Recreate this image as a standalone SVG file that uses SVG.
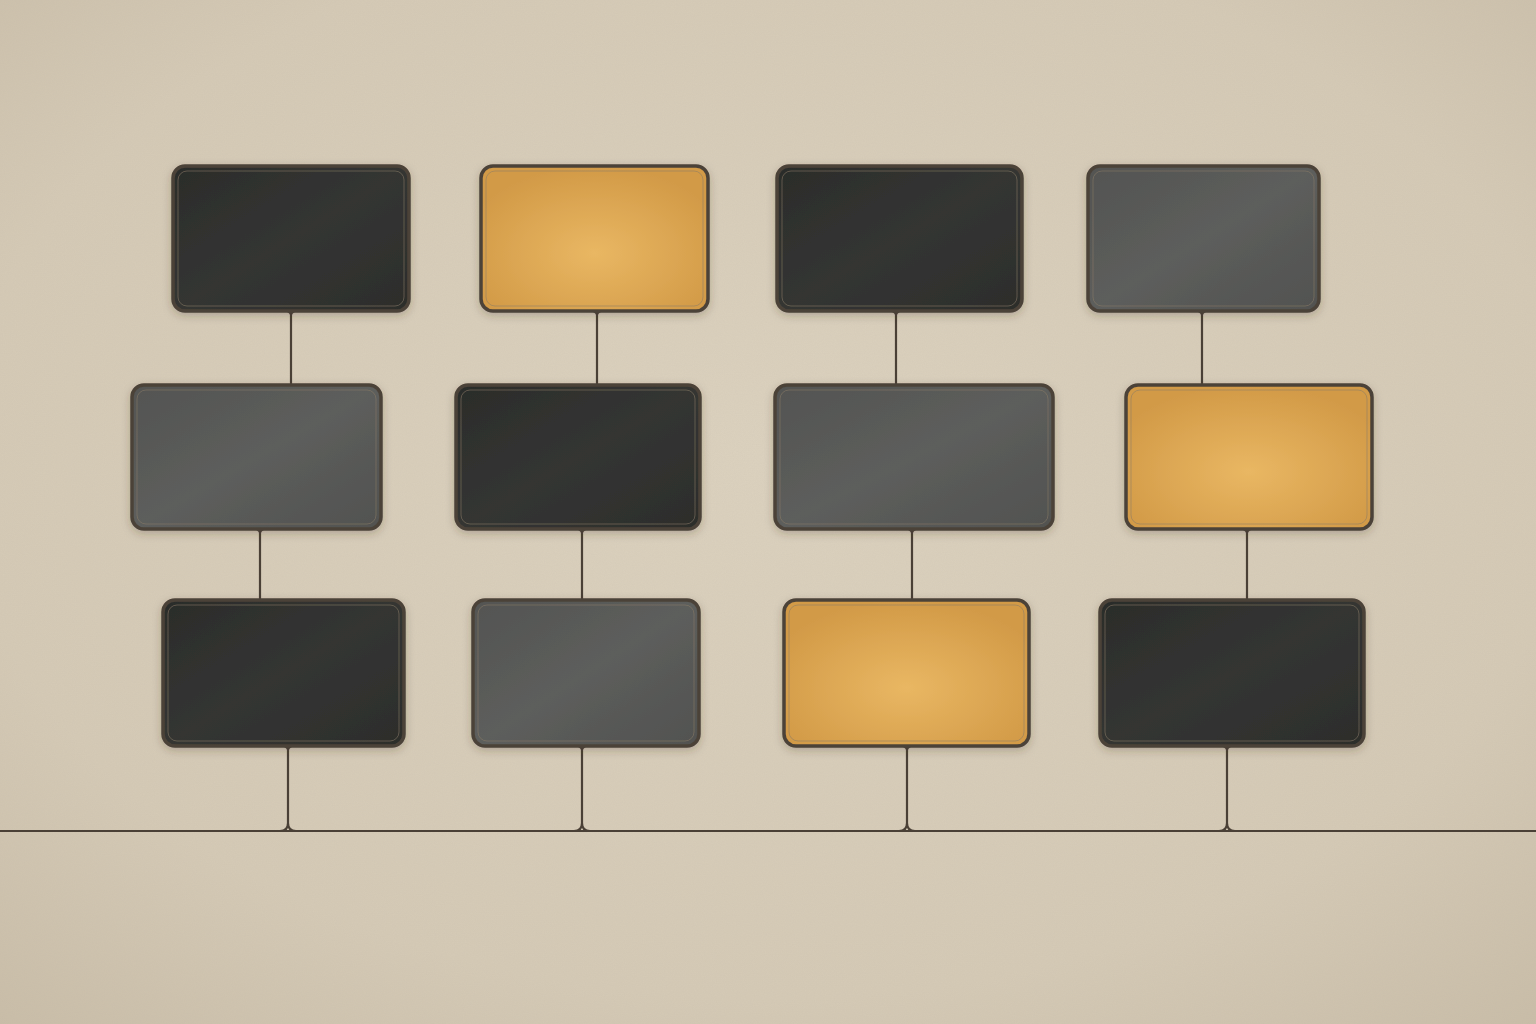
<svg xmlns="http://www.w3.org/2000/svg" width="1536" height="1024" viewBox="0 0 1536 1024">
<defs>
<radialGradient id="bg" cx="50%" cy="45%" r="75%">
<stop offset="0" stop-color="#dcd2bf"/>
<stop offset="0.7" stop-color="#d5cab6"/>
<stop offset="1" stop-color="#c9bda8"/>
</radialGradient>
<radialGradient id="gOrange" cx="50%" cy="60%" r="60%">
<stop offset="0" stop-color="#e9b763"/>
<stop offset="1" stop-color="#d29a47"/>
</radialGradient>
<linearGradient id="gDark" x1="0" y1="0" x2="1" y2="1">
<stop offset="0" stop-color="#2b2c2a"/>
<stop offset="0.5" stop-color="#343533"/>
<stop offset="1" stop-color="#2c2d2b"/>
</linearGradient>
<linearGradient id="gGray" x1="0" y1="0" x2="1" y2="1">
<stop offset="0" stop-color="#535452"/>
<stop offset="0.5" stop-color="#5d5e5c"/>
<stop offset="1" stop-color="#515250"/>
</linearGradient>
<filter id="noise" x="0" y="0" width="100%" height="100%">
<feTurbulence type="fractalNoise" baseFrequency="0.9" numOctaves="2" seed="3" result="t"/>
<feColorMatrix type="matrix" values="0 0 0 0 0.45  0 0 0 0 0.4  0 0 0 0 0.32  0 0 0 0.12 0"/>
</filter>
<filter id="shadow" x="-10%" y="-10%" width="120%" height="130%">
<feDropShadow dx="0" dy="3" stdDeviation="4" flood-color="#3a3228" flood-opacity="0.25"/>
</filter>
</defs>
<style>
.node rect.box{stroke:#4c4339;stroke-width:3.5}
.node rect.inner{fill:none;stroke:#8a7c66;stroke-width:1;stroke-opacity:0.55}
.dark rect.box{fill:url(#gDark)}
.gray rect.box{fill:url(#gGray)}
.orange rect.box{fill:url(#gOrange)}
#connectors path{fill:none;stroke:#4a4036;stroke-width:2.2;stroke-linecap:round}
#connectors path.flare{fill:#4a4036;stroke:none}
</style>
<rect width="1536" height="1024" fill="url(#bg)"/>
<rect width="1536" height="1024" filter="url(#noise)"/>

<g id="connectors">
<path d="M291 311 V385"/>
<path d="M597 311 V385"/>
<path d="M896 311 V385"/>
<path d="M1202 311 V385"/>
<path d="M260 529 V600"/>
<path d="M582 529 V600"/>
<path d="M912 529 V600"/>
<path d="M1247 529 V600"/>
<path d="M288 746 V823 Q288 831 280 831 M288 823 Q288 831 296 831"/>
<path d="M582 746 V823 Q582 831 574 831 M582 823 Q582 831 590 831"/>
<path d="M907 746 V823 Q907 831 899 831 M907 823 Q907 831 915 831"/>
<path d="M1227 746 V823 Q1227 831 1219 831 M1227 823 Q1227 831 1235 831"/>
<path d="M0 831 H1536"/>
<path class="flare" d="M284 311 Q291 312 291 319 Q291 312 298 311 Z"/>
<path class="flare" d="M590 311 Q597 312 597 319 Q597 312 604 311 Z"/>
<path class="flare" d="M889 311 Q896 312 896 319 Q896 312 903 311 Z"/>
<path class="flare" d="M1195 311 Q1202 312 1202 319 Q1202 312 1209 311 Z"/>
<path class="flare" d="M253 529 Q260 530 260 537 Q260 530 267 529 Z"/>
<path class="flare" d="M575 529 Q582 530 582 537 Q582 530 589 529 Z"/>
<path class="flare" d="M905 529 Q912 530 912 537 Q912 530 919 529 Z"/>
<path class="flare" d="M1240 529 Q1247 530 1247 537 Q1247 530 1254 529 Z"/>
<path class="flare" d="M281 746 Q288 747 288 754 Q288 747 295 746 Z"/>
<path class="flare" d="M575 746 Q582 747 582 754 Q582 747 589 746 Z"/>
<path class="flare" d="M900 746 Q907 747 907 754 Q907 747 914 746 Z"/>
<path class="flare" d="M1220 746 Q1227 747 1227 754 Q1227 747 1234 746 Z"/>
</g>

<g id="n1" class="node dark" filter="url(#shadow)"><rect class="box" x="173" y="166" width="236" height="145" rx="12"/><rect class="inner" x="178" y="171" width="226" height="135" rx="9"/></g>
<g id="n2" class="node orange" filter="url(#shadow)"><rect class="box" x="481" y="166" width="227" height="145" rx="12"/><rect class="inner" x="486" y="171" width="217" height="135" rx="9"/></g>
<g id="n3" class="node dark" filter="url(#shadow)"><rect class="box" x="777" y="166" width="245" height="145" rx="12"/><rect class="inner" x="782" y="171" width="235" height="135" rx="9"/></g>
<g id="n4" class="node gray" filter="url(#shadow)"><rect class="box" x="1088" y="166" width="231" height="145" rx="12"/><rect class="inner" x="1093" y="171" width="221" height="135" rx="9"/></g>

<g id="n5" class="node gray" filter="url(#shadow)"><rect class="box" x="132" y="385" width="249" height="144" rx="12"/><rect class="inner" x="137" y="390" width="239" height="134" rx="9"/></g>
<g id="n6" class="node dark" filter="url(#shadow)"><rect class="box" x="456" y="385" width="244" height="144" rx="12"/><rect class="inner" x="461" y="390" width="234" height="134" rx="9"/></g>
<g id="n7" class="node gray" filter="url(#shadow)"><rect class="box" x="775" y="385" width="278" height="144" rx="12"/><rect class="inner" x="780" y="390" width="268" height="134" rx="9"/></g>
<g id="n8" class="node orange" filter="url(#shadow)"><rect class="box" x="1126" y="385" width="246" height="144" rx="12"/><rect class="inner" x="1131" y="390" width="236" height="134" rx="9"/></g>

<g id="n9" class="node dark" filter="url(#shadow)"><rect class="box" x="163" y="600" width="241" height="146" rx="12"/><rect class="inner" x="168" y="605" width="231" height="136" rx="9"/></g>
<g id="n10" class="node gray" filter="url(#shadow)"><rect class="box" x="473" y="600" width="226" height="146" rx="12"/><rect class="inner" x="478" y="605" width="216" height="136" rx="9"/></g>
<g id="n11" class="node orange" filter="url(#shadow)"><rect class="box" x="784" y="600" width="245" height="146" rx="12"/><rect class="inner" x="789" y="605" width="235" height="136" rx="9"/></g>
<g id="n12" class="node dark" filter="url(#shadow)"><rect class="box" x="1100" y="600" width="264" height="146" rx="12"/><rect class="inner" x="1105" y="605" width="254" height="136" rx="9"/></g>
</svg>
